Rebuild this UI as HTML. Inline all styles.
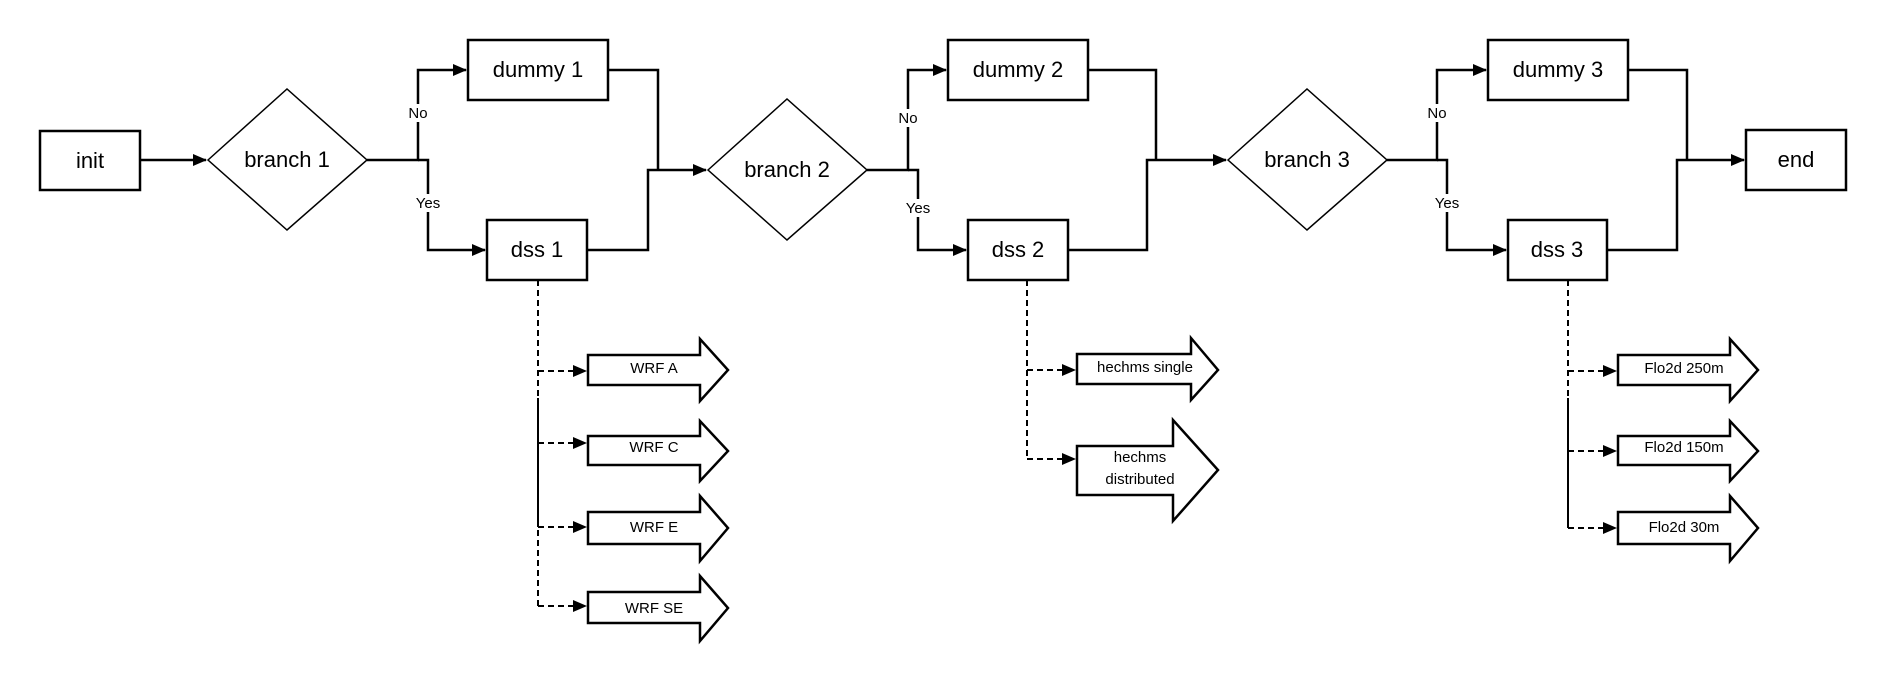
<!DOCTYPE html>
<html><head><meta charset="utf-8"><style>
html,body{margin:0;padding:0;background:#fff;}
svg{display:block;font-family:"Liberation Sans",Arial,sans-serif;}
</style></head><body>
<svg width="1886" height="680" viewBox="0 0 1886 680" xmlns="http://www.w3.org/2000/svg">
<defs>
<marker id="a" markerWidth="14" markerHeight="14" refX="13" refY="7" orient="auto" markerUnits="userSpaceOnUse">
<path d="M0,1 L14,7 L0,13 z" fill="#000"/></marker>
</defs>
<g fill="none" stroke="#000" stroke-width="2.5">
<rect x="40" y="131" width="100" height="59"/>
<rect x="468" y="40" width="140" height="60"/>
<rect x="487" y="220" width="100" height="60"/>
<rect x="948" y="40" width="140" height="60"/>
<rect x="968" y="220" width="100" height="60"/>
<rect x="1488" y="40" width="140" height="60"/>
<rect x="1508" y="220" width="99" height="60"/>
<rect x="1746" y="130" width="100" height="60"/>
</g>
<g fill="none" stroke="#000" stroke-width="1.5">
<polygon points="208,160 287,89 367,160 287,230"/>
<polygon points="708,170 787,99 867,170 787,240"/>
<polygon points="1228,160 1307,89 1387,160 1307,230"/>
</g>
<g fill="none" stroke="#000" stroke-width="2.5">
<path d="M140,160 H206" marker-end="url(#a)"/>
<path d="M367,160 H418 V70 H466" marker-end="url(#a)"/>
<path d="M418,160 H428 V250 H485" marker-end="url(#a)"/>
<path d="M608,70 H658 V170"/>
<path d="M587,250 H648 V170 H706" marker-end="url(#a)"/>
<path d="M867,170 H908 V70 H946" marker-end="url(#a)"/>
<path d="M908,170 H918 V250 H966" marker-end="url(#a)"/>
<path d="M1088,70 H1156 V160"/>
<path d="M1068,250 H1147 V160 H1226" marker-end="url(#a)"/>
<path d="M1387,160 H1437 V70 H1486" marker-end="url(#a)"/>
<path d="M1437,160 H1447 V250 H1506" marker-end="url(#a)"/>
<path d="M1628,70 H1687 V160"/>
<path d="M1607,250 H1677 V160 H1744" marker-end="url(#a)"/>
</g>
<g font-size="15" text-anchor="middle" fill="#000">
<rect x="405" y="104" width="26" height="18" fill="#fff"/><text x="418" y="118">No</text>
<rect x="413" y="194" width="30" height="18" fill="#fff"/><text x="428" y="208">Yes</text>
<rect x="895" y="109" width="26" height="18" fill="#fff"/><text x="908" y="123">No</text>
<rect x="903" y="199" width="30" height="18" fill="#fff"/><text x="918" y="213">Yes</text>
<rect x="1424" y="104" width="26" height="18" fill="#fff"/><text x="1437" y="118">No</text>
<rect x="1432" y="194" width="30" height="18" fill="#fff"/><text x="1447" y="208">Yes</text>
</g>
<g fill="none" stroke="#000" stroke-width="2" stroke-dasharray="6,4">
<path d="M538,280 V606"/>
<path d="M538,371 H586" marker-end="url(#a)"/>
<path d="M538,443 H586" marker-end="url(#a)"/>
<path d="M538,527 H586" marker-end="url(#a)"/>
<path d="M538,606 H586" marker-end="url(#a)"/>
<path d="M1027,280 V459"/>
<path d="M1027,370 H1075" marker-end="url(#a)"/>
<path d="M1027,459 H1075" marker-end="url(#a)"/>
<path d="M1568,280 V528"/>
<path d="M1568,371 H1616" marker-end="url(#a)"/>
<path d="M1568,451 H1616" marker-end="url(#a)"/>
<path d="M1568,528 H1616" marker-end="url(#a)"/>
</g>
<g stroke="#000" stroke-width="2"><path d="M538,398 V527"/><path d="M1568,398 V528"/></g>
<g fill="#fff" stroke="#000" stroke-width="2.5">
<polygon points="588,355 700,355 700,339 728,370 700,401 700,385 588,385"/>
<polygon points="588,436 700,436 700,421 728,451 700,481 700,465 588,465"/>
<polygon points="588,512 700,512 700,496 728,528 700,561 700,544 588,544"/>
<polygon points="588,592 700,592 700,576 728,608 700,641 700,623 588,623"/>
<polygon points="1077,354 1191,354 1191,338 1218,370 1191,400 1191,384 1077,384"/>
<polygon points="1077,446 1173,446 1173,420 1218,470 1173,521 1173,495 1077,495"/>
<polygon points="1618,355 1730,355 1730,339 1758,370 1730,401 1730,385 1618,385"/>
<polygon points="1618,436 1730,436 1730,421 1758,451 1730,481 1730,465 1618,465"/>
<polygon points="1618,512 1730,512 1730,496 1758,528 1730,561 1730,544 1618,544"/>
</g>
<g font-size="15" text-anchor="middle" fill="#000">
<text x="654" y="373">WRF A</text>
<text x="654" y="452">WRF C</text>
<text x="654" y="532">WRF E</text>
<text x="654" y="613">WRF SE</text>
<text x="1145" y="372">hechms single</text>
<text x="1140" y="462">hechms</text>
<text x="1140" y="484">distributed</text>
<text x="1684" y="373">Flo2d 250m</text>
<text x="1684" y="452">Flo2d 150m</text>
<text x="1684" y="532">Flo2d 30m</text>
</g>
<g font-size="22" text-anchor="middle" fill="#000">
<text x="90" y="168">init</text>
<text x="287" y="167">branch 1</text>
<text x="538" y="77">dummy 1</text>
<text x="537" y="257">dss 1</text>
<text x="787" y="177">branch 2</text>
<text x="1018" y="77">dummy 2</text>
<text x="1018" y="257">dss 2</text>
<text x="1307" y="167">branch 3</text>
<text x="1558" y="77">dummy 3</text>
<text x="1557" y="257">dss 3</text>
<text x="1796" y="167">end</text>
</g>
</svg>
</body></html>
